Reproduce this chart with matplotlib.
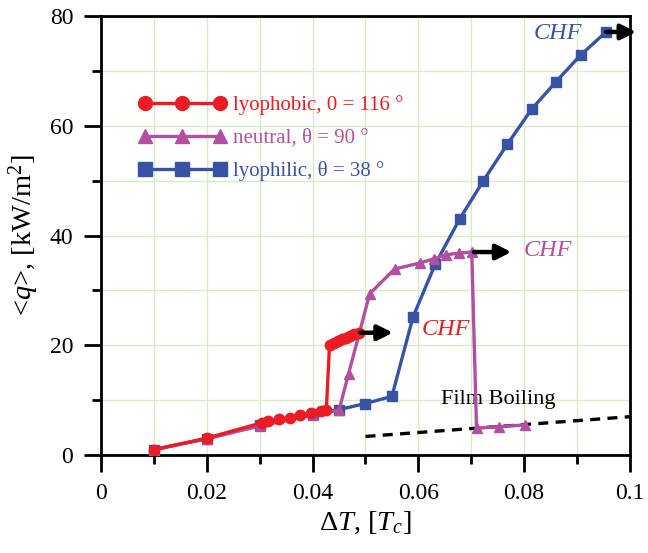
import matplotlib
matplotlib.use("Agg")
import matplotlib.pyplot as plt
from matplotlib.ticker import MultipleLocator, FixedLocator
from matplotlib.lines import Line2D

plt.rcParams["font.family"] = ["Liberation Serif", "DejaVu Serif"]
plt.rcParams["mathtext.fontset"] = "custom"
plt.rcParams["mathtext.rm"] = "Liberation Serif"
plt.rcParams["mathtext.it"] = "Liberation Serif:italic"

# Heat flux vs superheat for three wettabilities
dT_phobic = [0.01, 0.02, 0.0304, 0.0316, 0.0337, 0.0357, 0.0377, 0.0397, 0.0416, 0.0426,
             0.0432, 0.0440, 0.0448, 0.0455, 0.0463, 0.0470, 0.0478, 0.0487]
q_phobic = [1.0, 3.1, 5.9, 6.2, 6.6, 6.8, 7.3, 7.7, 8.1, 8.3,
            20.1, 20.5, 20.8, 21.1, 21.4, 21.7, 22.0, 22.3]

dT_neutral = [0.01, 0.02, 0.03, 0.04, 0.045, 0.0468, 0.0508, 0.0555, 0.0603, 0.063,
              0.0652, 0.0677, 0.0701, 0.071, 0.0753, 0.0802]
q_neutral = [1.0, 3.0, 5.3, 7.3, 8.2, 14.8, 29.4, 33.9, 35.0, 35.8,
             36.5, 36.8, 37.0, 4.9, 5.2, 5.5]
chf_neutral_idx = 12

dT_philic = [0.01, 0.02, 0.03, 0.04, 0.045, 0.05, 0.055, 0.059, 0.0632, 0.0678,
             0.0723, 0.0768, 0.0814, 0.086, 0.0907, 0.0955]
q_philic = [1.0, 3.0, 5.5, 7.5, 8.3, 9.4, 10.7, 25.2, 34.8, 43.0,
            50.0, 56.6, 63.0, 68.0, 72.9, 77.1]

# Film boiling trend line
dT_film = [0.05, 0.1]
q_film = [3.4, 7.0]

labels = ["lyophobic, 0 = 116 °", "neutral, θ = 90 °", "lyophilic, θ = 38 °"]
c_red = "#ec1c24"
c_purple = "#b24fa0"
c_blue = "#3953a4"
grid_c = "#d6ecc6"

fig = plt.figure(figsize=(6.48, 5.53), dpi=100)
ax = fig.add_axes([0.156, 0.177, 0.816, 0.794])

ax.set_xlim(0, 0.1)
ax.set_ylim(0, 80)
ax.xaxis.set_major_locator(FixedLocator([0, 0.02, 0.04, 0.06, 0.08, 0.1]))
ax.xaxis.set_minor_locator(MultipleLocator(0.01))
ax.yaxis.set_major_locator(MultipleLocator(20))
ax.yaxis.set_minor_locator(MultipleLocator(10))
ax.set_xticklabels(["0", "0.02", "0.04", "0.06", "0.08", "0.1"])
ax.grid(True, which="both", color=grid_c, lw=1.0, zorder=0)
ax.set_axisbelow(True)

for s in ax.spines.values():
    s.set_linewidth(2.0)
ax.tick_params(which="major", direction="out", length=12, width=2.0, labelsize=17)
ax.tick_params(axis="x", which="major", pad=8)
ax.tick_params(axis="y", which="major", pad=8)
ax.tick_params(which="minor", direction="out", length=6.5, width=2.0)
ax.tick_params(top=False, right=False)

lw = 2.4
ax.plot(dT_philic, q_philic, color=c_blue, lw=lw, marker="s", ms=6.5, zorder=3)
ax.plot(dT_neutral, q_neutral, color=c_purple, lw=lw, marker="^", ms=7, zorder=4)
ax.plot(dT_phobic, q_phobic, color=c_red, lw=lw, marker="o", ms=7.5, zorder=5)
ax.plot(dT_film, q_film, color="black", lw=2.4, ls=(0, (3, 2.2)), zorder=2)

# CHF arrows
arrow_kw = dict(arrowstyle="-|>,head_length=0.9,head_width=0.45", color="black", lw=3.2,
                shrinkA=0, shrinkB=0)
def chf_arrow(x0, y0, length):
    a = ax.annotate("", xy=(x0 + length, y0), xytext=(x0, y0),
                    arrowprops=arrow_kw, annotation_clip=False, zorder=6)
    a.arrow_patch.set_clip_on(False)

chf_arrow(dT_phobic[-1] + 0.0003, q_phobic[-1], 0.0062)
chf_arrow(dT_neutral[chf_neutral_idx] + 0.0004, q_neutral[chf_neutral_idx], 0.0071)
chf_arrow(dT_philic[-1], q_philic[-1], 0.0057)

ax.text(0.0653, 22.8, "CHF", color=c_red, fontsize=17.5, style="italic", ha="center", va="center")
ax.text(0.0845, 37.3, "CHF", color=c_purple, fontsize=17.5, style="italic", ha="center", va="center")
ax.text(0.0864, 76.9, "CHF", color=c_blue, fontsize=17.5, style="italic", ha="center", va="center")
ax.text(0.0752, 10.1, "Film Boiling", color="black", fontsize=16, ha="center", va="center")

ax.set_xlabel(r"$\Delta T$, [$T_c$]", fontsize=20.5, labelpad=4)
ax.set_ylabel(r"<$q$>, [kW/m$^2$]", fontsize=20.5, labelpad=6)

handles = [
    Line2D([], [], color=c_red, lw=lw, marker="o", ms=10),
    Line2D([], [], color=c_purple, lw=lw, marker="^", ms=10),
    Line2D([], [], color=c_blue, lw=lw, marker="s", ms=9.5),
]
leg = ax.legend(handles, labels, loc="upper left", bbox_to_anchor=(0.055, 0.838),
                frameon=False, numpoints=3, handlelength=4.2, handletextpad=0.35,
                fontsize=15, labelspacing=0.62, borderaxespad=0)
for t, c in zip(leg.get_texts(), [c_red, c_purple, c_blue]):
    t.set_color(c)

fig.savefig("out.png", dpi=100)
